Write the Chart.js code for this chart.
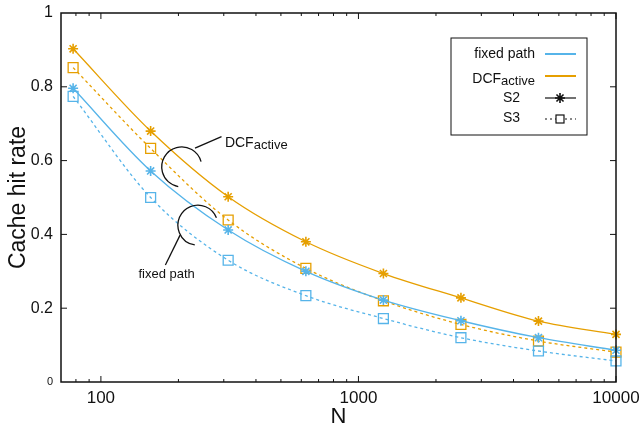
<!DOCTYPE html>
<html>
<head>
<meta charset="utf-8">
<script src="https://cdn.jsdelivr.net/npm/chart.js@4.4.1/dist/chart.umd.min.js"></script>
<style>
  html, body { margin: 0; padding: 0; background: #fff; }
</style>
</head>
<body>
<canvas id="chart" width="641" height="428"></canvas>
<script>
// N values (log axis) and hit rates
const sizes = [78, 156, 312, 625, 1250, 2500, 5000, 10000];
const fixedS2 = [0.796, 0.572, 0.412, 0.300, 0.222, 0.166, 0.120, 0.086];
const fixedS3 = [0.774, 0.500, 0.330, 0.234, 0.172, 0.120, 0.084, 0.057];
const dcfS2 = [0.903, 0.680, 0.502, 0.380, 0.294, 0.228, 0.165, 0.129];
const dcfS3 = [0.852, 0.633, 0.439, 0.308, 0.220, 0.156, 0.111, 0.081];

const xTicks = [100, 1000, 10000];
const xMinor = [80, 90, 200, 300, 400, 500, 600, 700, 800, 900, 2000, 3000, 4000, 5000, 6000, 7000, 8000, 9000];
const yTicks = [0, 0.2, 0.4, 0.6, 0.8, 1];
const yLabels = ["0", "0.2", "0.4", "0.6", "0.8", "1"];

const BLUE = "#56b4e9";
const ORANGE = "#e69f00";
const INK = "#111";
const FONT = "'Liberation Sans', Arial, sans-serif";

const pts = (ys) => sizes.map((n, i) => ({ x: n, y: ys[i] }));

function series(label, ys, color, style, dashed) {
    return {
        label: label,
        data: pts(ys),
        borderColor: color,
        backgroundColor: style === "rect" ? "rgba(255,255,255,0)" : color,
        borderWidth: 1.3,
        borderDash: dashed ? [3, 3] : [],
        pointStyle: style,
        pointRadius: style === "rect" ? 7 : 5,
        pointBorderWidth: style === "rect" ? 1.3 : 1.6,
        pointBorderColor: color,
        cubicInterpolationMode: "monotone",
        clip: false,
    };
}

// frame, inward ticks, legend and callouts
const decor = {
    id: "decor",
    afterDraw(chart) {
        const ctx = chart.ctx;
        const a = chart.chartArea;
        const xs = chart.scales.x, ys = chart.scales.y;
        const px = (v) => xs.getPixelForValue(v);
        const py = (v) => ys.getPixelForValue(v);
        ctx.save();

        ctx.strokeStyle = INK;
        ctx.lineWidth = 1.5;
        ctx.strokeRect(a.left, a.top, a.right - a.left, a.bottom - a.top);

        ctx.lineWidth = 1;
        ctx.beginPath();
        xTicks.forEach((v) => {
            const x = px(v);
            ctx.moveTo(x, a.bottom); ctx.lineTo(x, a.bottom - 6);
            ctx.moveTo(x, a.top); ctx.lineTo(x, a.top + 6);
        });
        xMinor.forEach((v) => {
            const x = px(v);
            ctx.moveTo(x, a.bottom); ctx.lineTo(x, a.bottom - 3);
            ctx.moveTo(x, a.top); ctx.lineTo(x, a.top + 3);
        });
        yTicks.slice(1, -1).forEach((v) => {
            const y = py(v);
            ctx.moveTo(a.left, y); ctx.lineTo(a.left + 6, y);
            ctx.moveTo(a.right, y); ctx.lineTo(a.right - 6, y);
        });
        ctx.stroke();

        // legend
        const lx = 451, ly = 38, lw = 136, lh = 97;
        ctx.lineWidth = 1;
        ctx.strokeStyle = INK;
        ctx.strokeRect(lx, ly, lw, lh);
        ctx.fillStyle = INK;
        ctx.textAlign = "right";
        ctx.textBaseline = "alphabetic";
        ctx.font = "14px " + FONT;
        ctx.fillText("fixed path", 535, 58);
        ctx.font = "13px " + FONT;
        const wAct = ctx.measureText("active").width;
        ctx.fillText("active", 535, 85);
        ctx.font = "14px " + FONT;
        ctx.fillText("DCF", 535 - wAct, 83);
        ctx.fillText("S2", 520, 102);
        ctx.fillText("S3", 520, 122);

        ctx.lineWidth = 2;
        ctx.strokeStyle = BLUE;
        ctx.beginPath(); ctx.moveTo(545, 54); ctx.lineTo(576, 54); ctx.stroke();
        ctx.strokeStyle = ORANGE;
        ctx.beginPath(); ctx.moveTo(545, 76); ctx.lineTo(576, 76); ctx.stroke();

        ctx.strokeStyle = INK;
        ctx.lineWidth = 1.2;
        ctx.beginPath(); ctx.moveTo(545, 98); ctx.lineTo(576, 98); ctx.stroke();
        ctx.lineWidth = 1.6;
        ctx.beginPath();
        for (let k = 0; k < 4; k++) {
            const t = k * Math.PI / 4;
            const dx = 5 * Math.cos(t), dy = 5 * Math.sin(t);
            ctx.moveTo(560 - dx, 98 - dy); ctx.lineTo(560 + dx, 98 + dy);
        }
        ctx.stroke();

        ctx.lineWidth = 1.2;
        ctx.setLineDash([2, 3]);
        ctx.beginPath(); ctx.moveTo(545, 119); ctx.lineTo(576, 119); ctx.stroke();
        ctx.setLineDash([]);
        ctx.fillStyle = "#fff";
        ctx.fillRect(556, 115, 8, 8);
        ctx.strokeRect(556, 115, 8, 8);

        // callouts
        ctx.strokeStyle = INK;
        ctx.lineWidth = 1.3;
        ctx.beginPath();
        ctx.arc(px(206), py(0.583), 20, -15 * Math.PI / 180, 100 * Math.PI / 180, true);
        ctx.stroke();
        ctx.beginPath();
        ctx.moveTo(px(232), py(0.634)); ctx.lineTo(px(294), py(0.665));
        ctx.stroke();
        ctx.beginPath();
        ctx.arc(px(238), py(0.425), 20, -22 * Math.PI / 180, 99 * Math.PI / 180, true);
        ctx.stroke();
        ctx.beginPath();
        ctx.moveTo(px(203), py(0.398)); ctx.lineTo(px(178), py(0.317));
        ctx.stroke();

        ctx.fillStyle = INK;
        ctx.textAlign = "left";
        ctx.font = "14px " + FONT;
        ctx.fillText("DCF", px(303), py(0.638));
        const wDcf = ctx.measureText("DCF").width;
        ctx.font = "13px " + FONT;
        ctx.fillText("active", px(303) + wDcf, py(0.638) + 2);
        ctx.textAlign = "center";
        ctx.fillText("fixed path", px(180), py(0.283));

        ctx.restore();
    },
};

new Chart(document.getElementById("chart"), {
    type: "line",
    data: {
        datasets: [
            series("fixed path S2", fixedS2, BLUE, "star", false),
            series("fixed path S3", fixedS3, BLUE, "rect", true),
            series("DCFactive S2", dcfS2, ORANGE, "star", false),
            series("DCFactive S3", dcfS3, ORANGE, "rect", true),
        ],
    },
    options: {
        responsive: false,
        animation: false,
        devicePixelRatio: 1,
        layout: { padding: { top: 13, right: 25, left: 0, bottom: 0 } },
        plugins: { legend: { display: false }, tooltip: { enabled: false } },
        scales: {
            x: {
                type: "logarithmic",
                min: 70,
                max: 10000,
                grid: { display: false, drawTicks: false },
                border: { display: false },
                afterBuildTicks: (s) => { s.ticks = xTicks.map((v) => ({ value: v })); },
                afterFit: (s) => { s.height = 46; s.paddingLeft = 0; s.paddingRight = 0; },
                ticks: {
                    padding: 6,
                    color: INK,
                    font: { family: FONT, size: 17 },
                    callback: (v) => String(v),
                    maxRotation: 0,
                    autoSkip: false,
                },
                title: {
                    display: true,
                    text: "N",
                    color: INK,
                    font: { family: FONT, size: 22, lineHeight: 1 },
                    padding: { top: 0, bottom: 0 },
                },
            },
            y: {
                min: 0,
                max: 1,
                grid: { display: false, drawTicks: false },
                border: { display: false },
                afterBuildTicks: (s) => { s.ticks = yTicks.map((v) => ({ value: v })); },
                afterFit: (s) => { s.width = 61; s.paddingTop = 0; s.paddingBottom = 0; },
                ticks: {
                    padding: 8,
                    color: INK,
                    font: (c) => ({ family: FONT, size: c.tick && c.tick.value === 0 ? 11 : 16 }),
                    callback: (v) => yLabels[yTicks.indexOf(v)],
                },
                title: {
                    display: true,
                    text: "Cache hit rate",
                    color: INK,
                    font: { family: FONT, size: 23, lineHeight: 1.2 },
                    padding: { top: 5, bottom: 0 },
                },
            },
        },
    },
    plugins: [decor],
});
</script>
</body>
</html>
